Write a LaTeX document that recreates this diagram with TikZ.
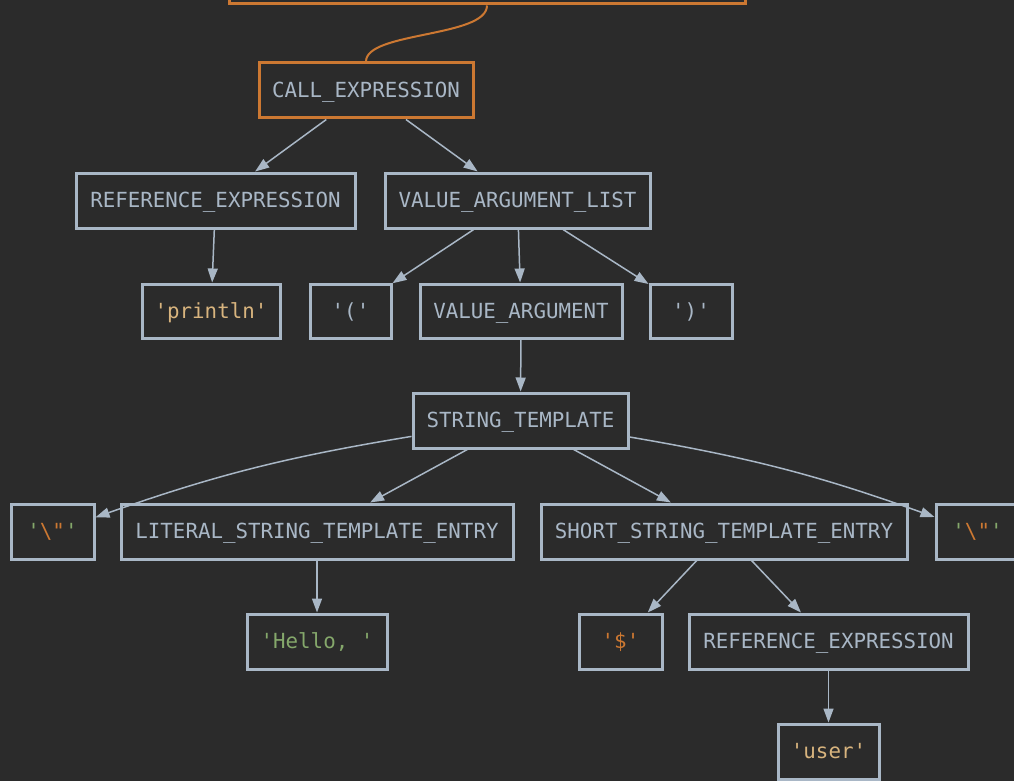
\documentclass[tikz,border=0pt]{standalone}
\usepackage{fontspec}
\setmonofont{DejaVu Sans Mono}
\usetikzlibrary{arrows.meta}
\definecolor{bgc}{HTML}{2B2B2B}
\definecolor{fgc}{HTML}{A9B7C6}
\definecolor{kwc}{HTML}{CC7832}
\definecolor{strc}{HTML}{85A86B}
\definecolor{idc}{HTML}{D8B47E}
\tikzset{
  psttree/.style={x=1pt,y=-1pt},
  box/.style={draw=fgc, line width=3pt, inner sep=0pt, minimum height=55pt,
    text height=18pt, text depth=4pt,
    text=fgc, font=\ttfamily\fontsize{20.8}{24}\selectfont},
  hot/.style={box, draw=kwc},
  edge/.style={draw=fgc, line width=1.5pt, -{Triangle[length=14pt,width=10pt]}},
  link/.style={draw=kwc, line width=2pt},
}
\newcommand{\escq}{\textcolor{strc}{'}\textcolor{kwc}{\textbackslash"}\textcolor{strc}{'}}
\begin{document}
\begin{tikzpicture}[psttree]
\useasboundingbox (0,0) rectangle (1014,781);
\fill[bgc] (0,0) rectangle (1014,781);

% parent node, mostly above the page
\node[hot, minimum width=516pt, minimum height=70pt] (root) at (487,-31) {};

\node[hot, minimum width=214pt] (call) at (366,90.5) {CALL\_EXPRESSION};
\node[box, minimum width=279pt] (ref1) at (215.5,200.5) {REFERENCE\_EXPRESSION};
\node[box, minimum width=265pt] (val) at (517.5,200.5) {VALUE\_ARGUMENT\_LIST};

\node[box, minimum width=138pt, minimum height=54pt, text=idc] (println) at (211,311) {'println'};
\node[box, minimum width=81pt, minimum height=54pt] (lp) at (350.5,311) {'('};
\node[box, minimum width=202pt, minimum height=54pt] (va) at (521,311) {VALUE\_ARGUMENT};
\node[box, minimum width=82pt, minimum height=54pt] (rp) at (691,311) {')'};

\node[box, minimum width=215pt] (st) at (520.5,420.5) {STRING\_TEMPLATE};

\node[box, minimum width=83pt] (lq) at (52.5,531.5) {\escq};
\node[box, minimum width=392pt] (lste) at (317,531.5) {LITERAL\_STRING\_TEMPLATE\_ENTRY};
\node[box, minimum width=366pt] (sste) at (724,531.5) {SHORT\_STRING\_TEMPLATE\_ENTRY};
\node[box, minimum width=83pt] (rq) at (977.5,531.5) {\escq};

\node[box, minimum width=140pt, text=strc] (hello) at (317,641.5) {'Hello,~'};
\node[box, minimum width=83pt, text=kwc] (dollar) at (620.5,641.5) {'\$'};
\node[box, minimum width=279pt] (ref2) at (828.5,641.5) {REFERENCE\_EXPRESSION};
\node[box, minimum width=101pt, text=idc] (user) at (828.5,751.5) {'user'};

% connectors
\draw[link] (root.south) .. controls +(0,32) and +(0,-30) .. (call.north);

\draw[edge] (call) -- (ref1);
\draw[edge] (call) -- (val);
\draw[edge] (ref1) -- (println);
\draw[edge] (val) -- (lp);
\draw[edge] (val) -- (va);
\draw[edge] (val) -- (rp);
\draw[edge] (va) -- (st);
\draw[edge] (st) to[bend right=5] (lq);
\draw[edge] (st) -- (lste);
\draw[edge] (st) -- (sste);
\draw[edge] (st) to[bend left=5] (rq);
\draw[edge] (lste) -- (hello);
\draw[edge] (sste) -- (dollar);
\draw[edge] (sste) -- (ref2);
\draw[edge] (ref2) -- (user);
\end{tikzpicture}
\end{document}
